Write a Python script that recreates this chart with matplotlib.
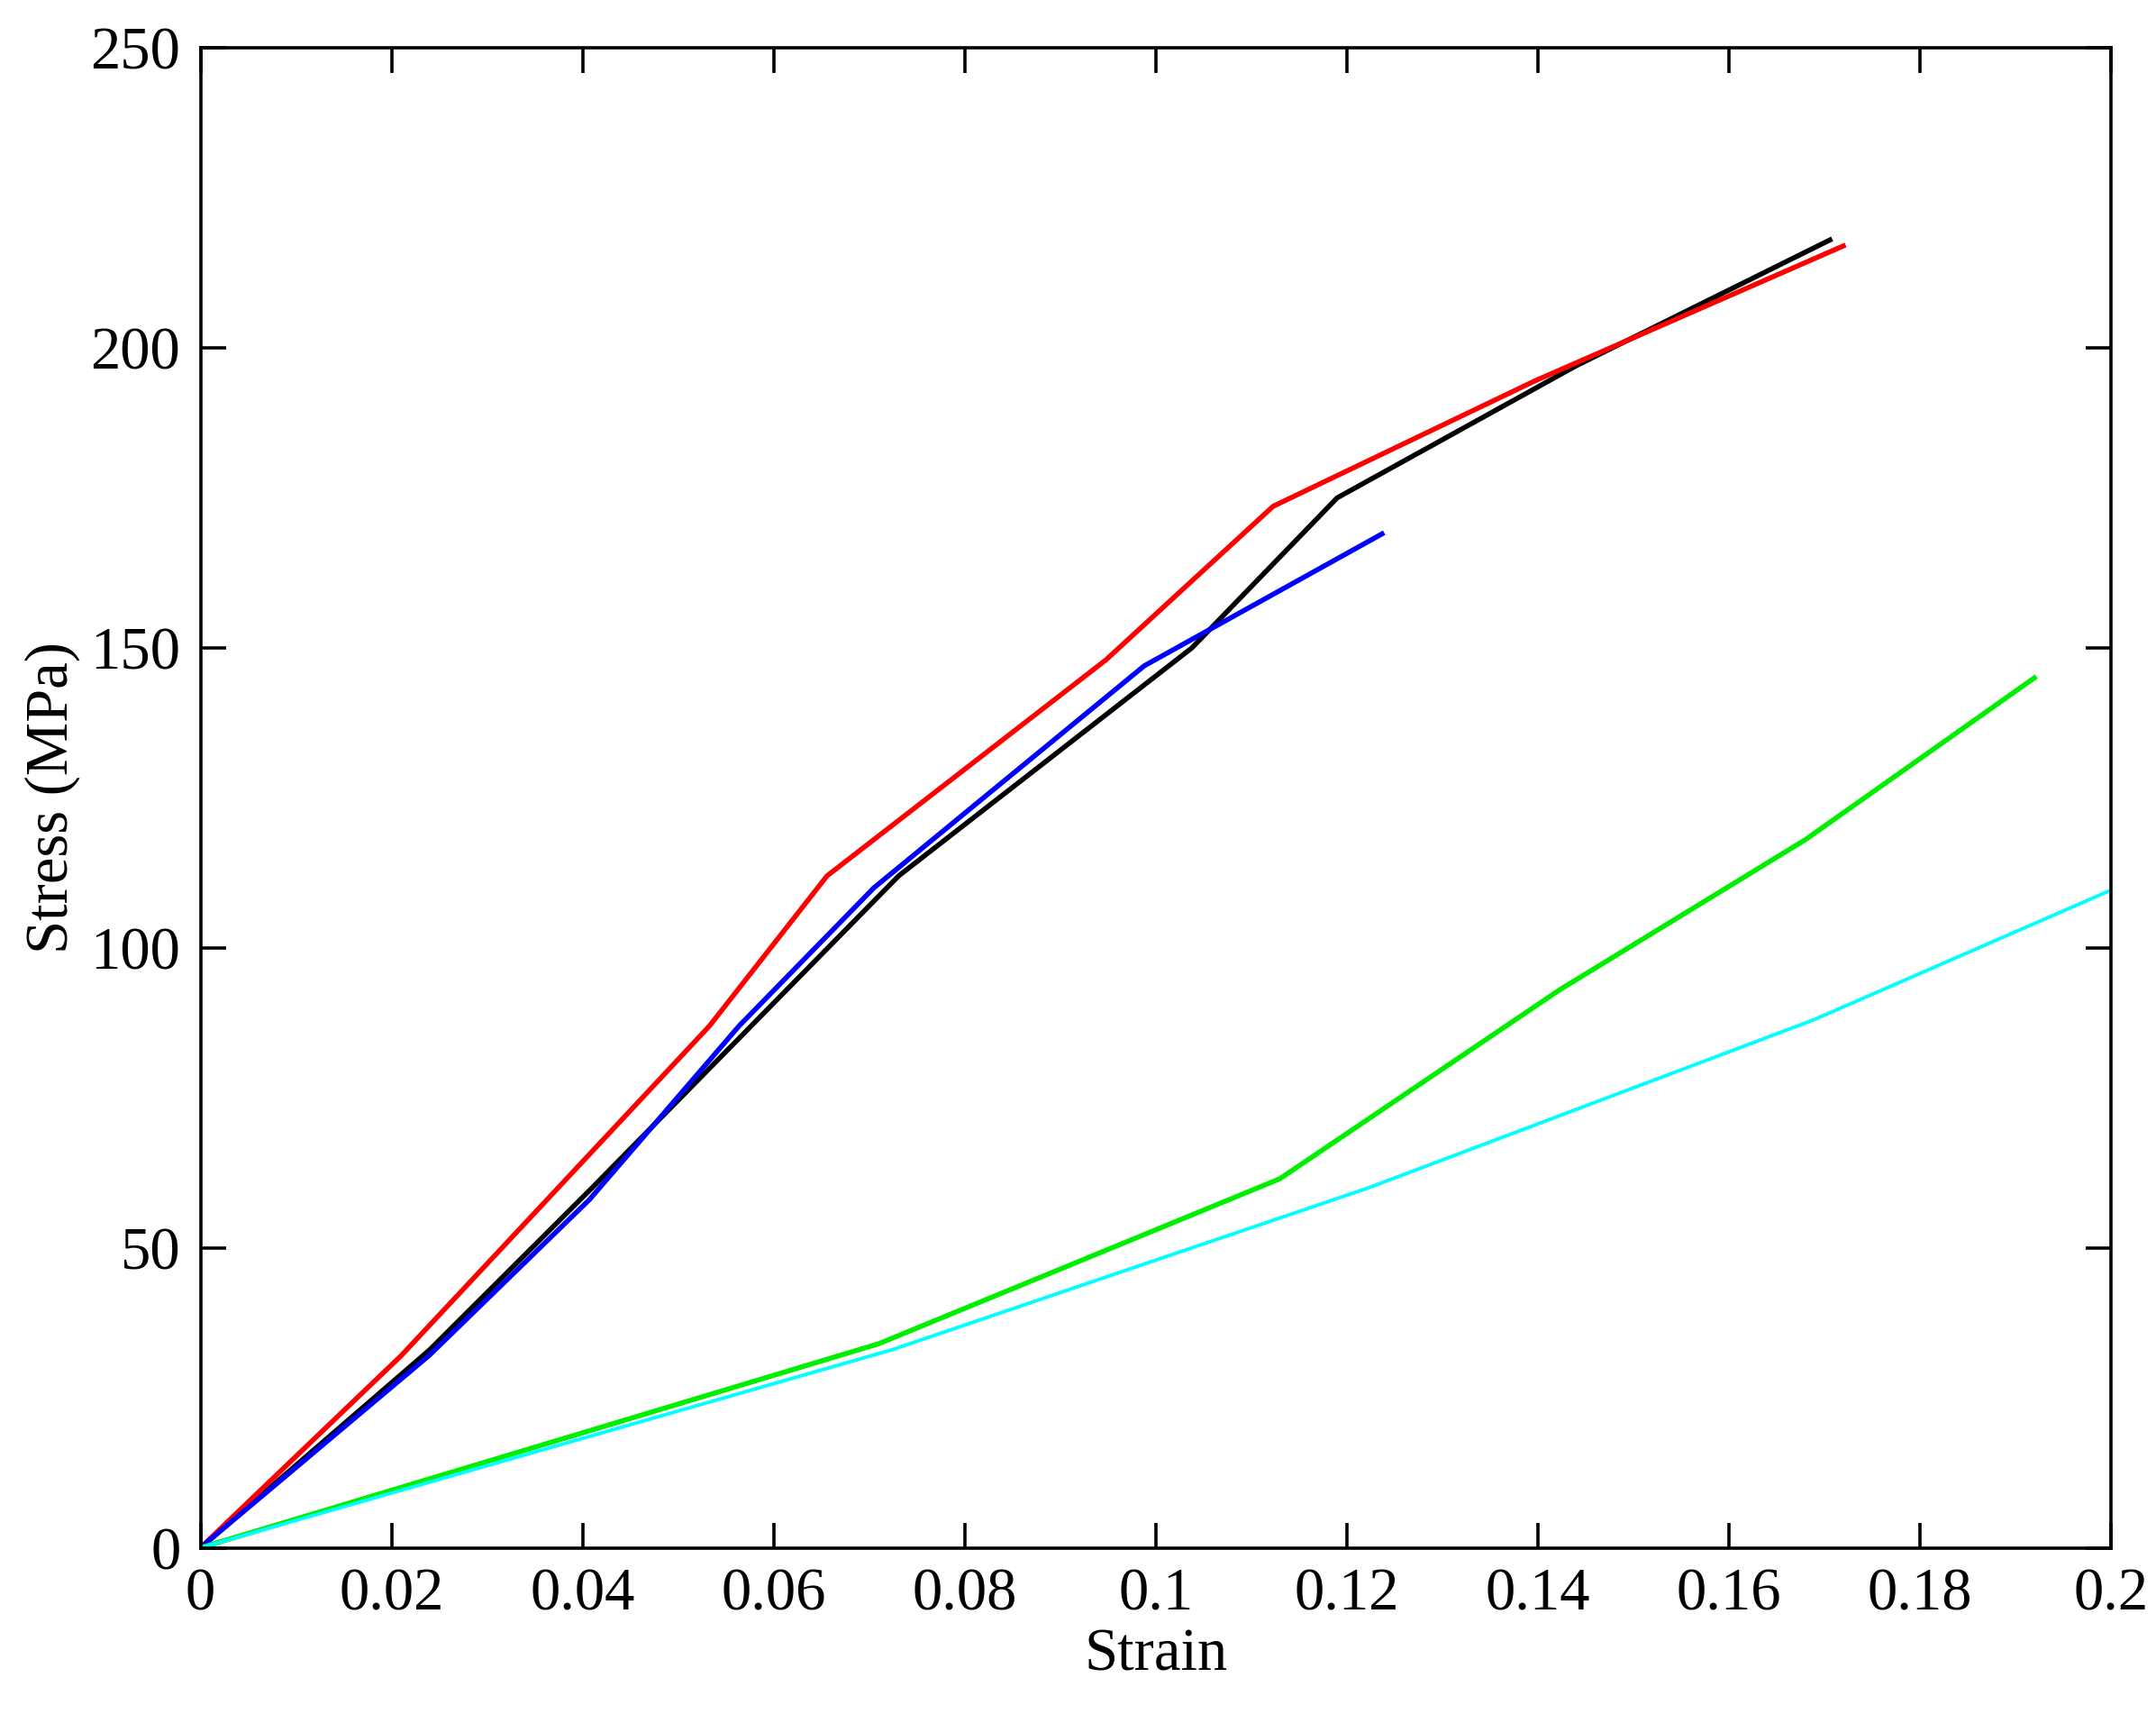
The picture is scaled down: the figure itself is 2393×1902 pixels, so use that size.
import matplotlib.pyplot as plt

plt.rcParams['font.family'] = ['Liberation Serif', 'DejaVu Serif']

black_x = [0, 0.024, 0.041, 0.0731, 0.1038, 0.119, 0.144, 0.1706]
black_y = [0, 33, 60, 112, 150, 175, 197, 218]
red_x = [0, 0.021, 0.0533, 0.0656, 0.0948, 0.1123, 0.1397, 0.172]
red_y = [0, 32, 87, 112, 148, 173.6, 194.5, 217]
blue_x = [0, 0.0239, 0.0407, 0.0564, 0.0705, 0.0988, 0.1237]
blue_y = [0, 32, 58, 87, 110, 147, 169]
green_x = [0, 0.071, 0.113, 0.1423, 0.168, 0.192]
green_y = [0, 34, 61.5, 93, 118, 145]
cyan_x = [0, 0.0724, 0.1223, 0.1689, 0.2]
cyan_y = [0, 33, 60, 88, 109.6]

fig = plt.figure(figsize=(11.965, 9.51), dpi=200)
ax = fig.add_axes([0.093, 0.097, 0.886, 0.875])

ax.plot(black_x, black_y, color='black', lw=2)
ax.plot(red_x, red_y, color='red', lw=2)
ax.plot(blue_x, blue_y, color='blue', lw=2)
ax.plot(green_x, green_y, color='#00ee00', lw=2)
ax.plot(cyan_x, cyan_y, color='cyan', lw=1.4)

ax.set_xlim(0, 0.2)
ax.set_ylim(0, 250)
ax.set_xticks([0, 0.02, 0.04, 0.06, 0.08, 0.1, 0.12, 0.14, 0.16, 0.18, 0.2])
ax.set_xticklabels(['0', '0.02', '0.04', '0.06', '0.08', '0.1', '0.12', '0.14', '0.16', '0.18', '0.2'])
ax.set_yticks([0, 50, 100, 150, 200, 250])
ax.tick_params(direction='in', top=True, right=True, labelsize=24, length=10, width=1.3, pad=8)
for s in ax.spines.values():
    s.set_linewidth(1.3)
ax.set_xlabel('Strain', fontsize=24, labelpad=2)
ax.set_ylabel('Stress (MPa)', fontsize=24, labelpad=4)

fig.savefig('out.png')
